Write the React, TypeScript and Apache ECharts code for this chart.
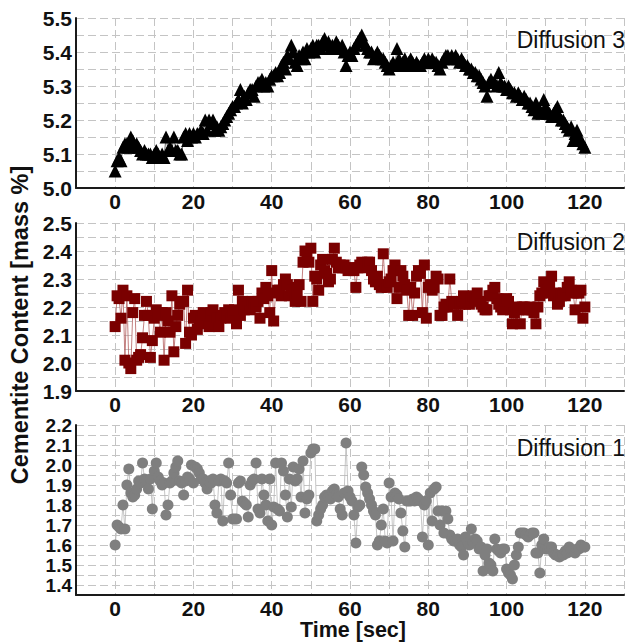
import React, { useEffect, useRef } from "react";
import * as echarts from "echarts";

const TIME_STEP = 0.5; // seconds between samples, starting at t = 0

const diffusion3: number[] = [
  5.05,5.08,5.09,5.08,5.12,5.13,5.13,5.12,5.15,5.14,5.12,5.13,5.12,5.11,5.10,5.11,5.10,5.10,5.10,5.09,
  5.10,5.11,5.10,5.09,5.10,5.09,5.15,5.11,5.12,5.11,5.15,5.11,5.11,5.10,5.10,5.15,5.16,5.14,5.16,5.15,
  5.16,5.15,5.16,5.16,5.17,5.16,5.20,5.17,5.20,5.19,5.20,5.17,5.18,5.17,5.18,5.19,5.20,5.21,5.22,5.23,
  5.24,5.24,5.25,5.26,5.29,5.25,5.27,5.26,5.28,5.29,5.29,5.27,5.30,5.31,5.31,5.32,5.30,5.31,5.30,5.32,
  5.33,5.33,5.34,5.33,5.34,5.36,5.37,5.35,5.39,5.38,5.42,5.40,5.37,5.36,5.39,5.38,5.40,5.38,5.41,5.40,
  5.41,5.42,5.40,5.42,5.42,5.41,5.43,5.44,5.42,5.43,5.41,5.42,5.41,5.43,5.42,5.41,5.42,5.40,5.36,5.39,
  5.40,5.39,5.41,5.42,5.43,5.44,5.45,5.43,5.42,5.41,5.40,5.40,5.38,5.39,5.40,5.39,5.38,5.38,5.37,5.36,
  5.35,5.36,5.37,5.36,5.41,5.38,5.36,5.37,5.38,5.36,5.37,5.38,5.37,5.36,5.37,5.36,5.36,5.37,5.38,5.37,
  5.38,5.37,5.38,5.37,5.37,5.36,5.35,5.37,5.38,5.39,5.39,5.38,5.39,5.38,5.39,5.38,5.37,5.38,5.37,5.36,
  5.36,5.35,5.35,5.34,5.34,5.33,5.33,5.32,5.31,5.30,5.27,5.31,5.32,5.31,5.31,5.30,5.34,5.31,5.30,5.30,
  5.29,5.30,5.29,5.28,5.28,5.27,5.28,5.27,5.26,5.27,5.26,5.25,5.25,5.24,5.23,5.25,5.22,5.23,5.22,5.26,
  5.24,5.22,5.22,5.21,5.22,5.23,5.24,5.21,5.20,5.20,5.19,5.18,5.17,5.18,5.14,5.16,5.17,5.15,5.14,5.13,
  5.12,
];

const diffusion2: number[] = [
  2.13,2.24,2.23,2.16,2.26,2.01,2.24,2.00,1.98,2.18,2.23,2.01,2.02,2.03,2.09,2.17,2.22,2.17,2.02,2.08,
  2.16,2.19,2.17,2.11,2.18,2.01,2.18,2.15,2.11,2.24,2.04,2.13,2.17,2.21,2.22,2.22,2.07,2.26,2.11,2.10,
  2.16,2.17,2.12,2.15,2.16,2.18,2.14,2.17,2.13,2.18,2.19,2.14,2.16,2.13,2.16,2.17,2.18,2.17,2.19,2.16,
  2.18,2.19,2.14,2.26,2.17,2.22,2.19,2.21,2.20,2.19,2.22,2.21,2.20,2.22,2.16,2.25,2.23,2.27,2.24,2.18,
  2.33,2.15,2.25,2.26,2.26,2.24,2.28,2.30,2.28,2.24,2.27,2.26,2.22,2.25,2.28,2.22,2.36,2.40,2.39,2.36,
  2.41,2.22,2.31,2.30,2.26,2.35,2.37,2.33,2.32,2.29,2.30,2.37,2.41,2.36,2.34,2.35,2.34,2.35,2.34,2.33,
  2.34,2.34,2.33,2.27,2.34,2.35,2.36,2.34,2.35,2.36,2.36,2.33,2.30,2.29,2.31,2.28,2.27,2.39,2.28,2.27,
  2.29,2.30,2.33,2.35,2.23,2.27,2.33,2.31,2.28,2.26,2.17,2.27,2.17,2.25,2.31,2.33,2.32,2.18,2.35,2.16,
  2.27,2.28,2.26,2.27,2.31,2.30,2.17,2.17,2.20,2.21,2.20,2.30,2.22,2.21,2.21,2.17,2.21,2.22,2.24,2.21,
  2.22,2.21,2.23,2.24,2.23,2.25,2.22,2.21,2.20,2.19,2.19,2.24,2.24,2.26,2.27,2.23,2.21,2.20,2.19,2.22,
  2.23,2.22,2.19,2.14,2.18,2.20,2.19,2.14,2.20,2.20,2.19,2.19,2.20,2.19,2.18,2.14,2.20,2.24,2.25,2.29,
  2.26,2.25,2.28,2.31,2.24,2.25,2.21,2.22,2.24,2.25,2.24,2.27,2.29,2.26,2.25,2.19,2.25,2.25,2.26,2.16,
  2.20,
];

const diffusion1: number[] = [
  1.60,1.70,1.69,1.68,1.80,1.68,1.90,1.98,1.86,1.84,1.85,1.88,1.92,1.91,2.01,1.93,1.92,1.88,1.93,1.78,
  1.97,2.01,1.94,1.92,1.90,1.91,1.75,1.80,1.91,1.92,1.96,1.99,2.02,1.92,1.91,1.85,1.92,1.94,1.93,2.00,
  1.91,1.99,1.98,1.96,1.93,1.93,1.91,1.88,1.92,1.91,1.93,1.80,1.76,1.92,1.93,1.72,1.92,1.91,2.01,1.85,
  1.73,1.73,1.73,1.91,1.92,1.82,1.81,1.80,1.74,1.90,1.92,1.93,2.01,1.78,1.76,1.93,1.85,1.80,1.72,1.93,
  1.70,1.79,2.01,1.78,1.77,2.01,1.97,1.85,1.74,1.93,1.79,1.99,1.92,1.93,1.98,1.84,2.02,1.76,1.83,1.85,
  2.06,2.08,2.08,1.72,1.75,1.78,1.80,1.84,1.85,1.84,1.83,1.87,1.88,1.85,1.84,1.78,1.75,1.86,2.11,1.87,
  1.84,1.82,1.75,1.61,1.79,1.80,1.99,1.95,1.89,1.86,1.83,1.80,1.77,1.75,1.60,1.62,1.70,1.78,1.62,1.61,
  1.91,1.84,1.62,1.86,1.85,1.83,1.76,1.67,1.59,1.82,1.82,1.82,1.83,1.82,1.84,1.83,1.82,1.64,1.80,1.82,
  1.60,1.86,1.72,1.88,1.89,1.77,1.70,1.77,1.66,1.77,1.73,1.65,1.63,1.62,1.62,1.63,1.60,1.59,1.55,1.64,
  1.61,1.60,1.68,1.61,1.63,1.62,1.58,1.59,1.47,1.55,1.58,1.51,1.50,1.47,1.63,1.58,1.57,1.56,1.58,1.58,
  1.48,1.46,1.45,1.43,1.50,1.55,1.59,1.66,1.66,1.66,1.65,1.64,1.65,1.66,1.66,1.56,1.56,1.46,1.60,1.63,
  1.58,1.58,1.59,1.59,1.56,1.55,1.55,1.54,1.55,1.55,1.57,1.56,1.59,1.57,1.57,1.56,1.58,1.58,1.60,1.59,
  1.59,
];

const panelLabels = ["Diffusion 3", "Diffusion 2", "Diffusion 1"];
const xTickLabels = [0, 20, 40, 60, 80, 100, 120];
const yRanges = [
  { min: 5.0, max: 5.5 },
  { min: 1.9, max: 2.5 },
  { min: 1.35, max: 2.2 },
];
const yTitle = "Cementite Content [mass %]";
const xTitle = "Time [sec]";

const FONT = '"Liberation Sans", Arial, sans-serif';

const toPairs = (arr: number[]) => arr.map((v, i) => [i * TIME_STEP, v]);

const yFormatter = (v: number) => {
  const r = Math.round(v * 10);
  return Math.abs(v * 10 - r) < 1e-6 ? (r / 10).toFixed(1) : "";
};
const xFormatter = (v: number) =>
  xTickLabels.some((t) => Math.abs(t - v) < 1e-6) ? String(Math.round(v)) : "";

export default function App() {
  const ref = useRef<HTMLDivElement>(null);
  useEffect(() => {
    if (!ref.current) return;
    const chart = echarts.init(ref.current, undefined, { renderer: "svg" });
    const grids = [
      { left: 76, right: 1, top: 18, height: 170 },
      { left: 76, right: 1, top: 223, height: 168 },
      { left: 76, right: 1, top: 425, height: 170 },
    ];
    const splitLine = {
      show: true,
      lineStyle: { color: "#c4c4c4", type: [8, 4] as any, width: 1 },
    };
    const axisLine = { show: true, onZero: false, lineStyle: { color: "#1a1a1a", width: 2 } };
    const labelStyle = { fontFamily: FONT, fontWeight: "bold" as const, fontSize: 21, color: "#111" };
    const xAxis = grids.map((_, i) => ({
      type: "value" as const,
      gridIndex: i,
      min: -10,
      max: 130,
      interval: 10,
      axisLine,
      axisTick: { show: false },
      splitLine,
      axisLabel: {
        ...labelStyle,
        fontSize: 21,
        lineHeight: 20,
        margin: 3,
        formatter: xFormatter,
        showMinLabel: true,
        showMaxLabel: true,
      },
    }));
    const yAxis = yRanges.map((r, i) => ({
      type: "value" as const,
      gridIndex: i,
      min: r.min,
      max: r.max,
      interval: 0.05,
      axisLine,
      axisTick: { show: false },
      splitLine,
      axisLabel: {
        ...labelStyle,
        fontSize: i === 2 ? 19 : 21,
        lineHeight: i === 2 ? 18 : 22,
        margin: 4,
        formatter: yFormatter,
        showMinLabel: true,
        showMaxLabel: true,
      },
    }));
    const series = [
      {
        type: "line",
        xAxisIndex: 0,
        yAxisIndex: 0,
        data: toPairs(diffusion3),
        symbol: "triangle",
        symbolSize: 13,
        itemStyle: { color: "#000000" },
        lineStyle: { color: "#444444", width: 0.8 },
      },
      {
        type: "line",
        xAxisIndex: 1,
        yAxisIndex: 1,
        data: toPairs(diffusion2),
        symbol: "rect",
        symbolSize: 11,
        itemStyle: { color: "#7a0000" },
        lineStyle: { color: "#b46060", width: 0.8 },
      },
      {
        type: "line",
        xAxisIndex: 2,
        yAxisIndex: 2,
        data: toPairs(diffusion1),
        symbol: "circle",
        symbolSize: 11,
        itemStyle: { color: "#7f7f7f" },
        lineStyle: { color: "#b8b8b8", width: 0.8 },
      },
    ];
    const labelYs = [40, 242, 448];
    const graphic: any[] = panelLabels.map((t, i) => ({
      type: "text",
      x: 625,
      y: labelYs[i],
      z: 10,
      style: {
        text: t,
        align: "right",
        verticalAlign: "middle",
        font: `23px ${FONT}`,
        fill: "#111",
      },
    }));
    graphic.push({
      type: "text",
      x: 20,
      y: 325,
      rotation: Math.PI / 2,
      style: {
        text: yTitle,
        align: "center",
        verticalAlign: "middle",
        font: `bold 23.5px ${FONT}`,
        fill: "#111",
      },
    });
    graphic.push({
      type: "text",
      x: 353,
      y: 630,
      style: {
        text: xTitle,
        align: "center",
        verticalAlign: "middle",
        font: `bold 21.5px ${FONT}`,
        fill: "#111",
      },
    });
    chart.setOption({
      animation: false,
      backgroundColor: "#ffffff",
      grid: grids,
      xAxis,
      yAxis,
      series,
      graphic,
    } as any);
    return () => chart.dispose();
  }, []);
  return (
    <div
      ref={ref}
      style={{ position: "fixed", left: 0, top: 0, width: 627, height: 643 }}
    />
  );
}
